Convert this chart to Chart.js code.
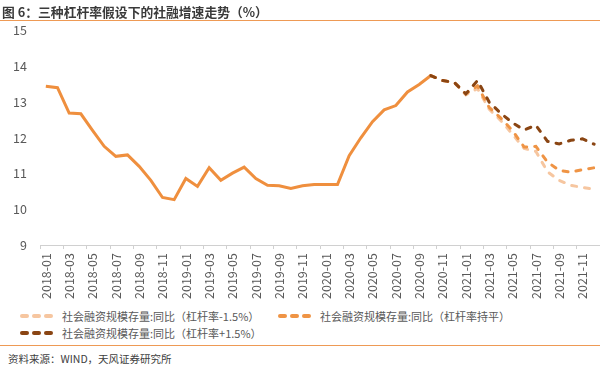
<!DOCTYPE html>
<html>
<head>
<meta charset="utf-8">
<script src="https://cdn.jsdelivr.net/npm/chart.js@4.4.0/dist/chart.umd.min.js"></script>
<style>
  body { margin: 0; background: #fff; font-family: 'Noto Sans CJK SC', 'Noto Sans', sans-serif; }
  #wrap { position: relative; width: 600px; height: 368px; overflow: hidden; }
  #title { position: absolute; left: 2px; top: 2px; font-size: 12.8px; font-weight: bold; color: #3a3a3a; z-index: 2; }
  #topline { position: absolute; left: 0; top: 20px; width: 600px; height: 0; border-top: 1.5px solid #ee9a55; z-index: 2; }
  #box { position: absolute; left: 0; top: 10px; width: 600px; height: 293px; }
  #legend { position: absolute; left: 20px; top: 307px; display: grid; grid-template-columns: 258px auto; grid-auto-rows: 17px; font-size: 11px; color: #595959; }
  .item { display: flex; align-items: center; white-space: nowrap; }
  .sample { display: flex; width: 33px; justify-content: space-between; margin-right: 9px; }
  .sample i { display: block; width: 9px; height: 4px; border-radius: 2px; }
  #botline { position: absolute; left: 0; top: 345px; width: 600px; height: 0; border-top: 1.5px solid #ee9a55; z-index: 2; }
  #source { position: absolute; left: 8px; top: 351px; font-size: 10.5px; color: #404040; z-index: 2; }
</style>
</head>
<body>
<div id="wrap">
  <div id="box"><canvas id="myChart"></canvas></div>
  <div id="title">图 6：三种杠杆率假设下的社融增速走势（%）</div>
  <div id="topline"></div>
  <div id="legend"></div>
  <div id="botline"></div>
  <div id="source">资料来源：WIND，天风证券研究所</div>
</div>
<script>
const months = [
  '2018-01','2018-02','2018-03','2018-04','2018-05','2018-06','2018-07','2018-08','2018-09','2018-10','2018-11','2018-12',
  '2019-01','2019-02','2019-03','2019-04','2019-05','2019-06','2019-07','2019-08','2019-09','2019-10','2019-11','2019-12',
  '2020-01','2020-02','2020-03','2020-04','2020-05','2020-06','2020-07','2020-08','2020-09','2020-10','2020-11','2020-12',
  '2021-01','2021-02','2021-03','2021-04','2021-05','2021-06','2021-07','2021-08','2021-09','2021-10','2021-11','2021-12'
];

// 社融存量同比 actual, 2018-01 .. 2020-10
const actual = [
  13.44, 13.40, 12.69, 12.67, 12.21, 11.76, 11.48, 11.52, 11.20, 10.81, 10.33, 10.27,
  10.86, 10.64, 11.16, 10.81, 11.01, 11.18, 10.86, 10.67, 10.66, 10.58, 10.66, 10.69,
  10.69, 10.69, 11.50, 12.00, 12.45, 12.78, 12.90, 13.28, 13.49, 13.74
];

// scenarios, 2020-10 .. 2021-12
const levPlus  = [13.74, 13.60, 13.55, 13.23, 13.60, 13.00, 12.68, 12.42, 12.22, 12.35, 11.90, 11.83, 11.93, 11.97, 11.82];
const levFlat  = [13.74, 13.60, 13.55, 13.23, 13.45, 12.85, 12.55, 12.20, 11.74, 11.76, 11.32, 11.09, 11.04, 11.11, 11.16];
const levMinus = [13.74, 13.60, 13.55, 13.20, 13.38, 12.80, 12.48, 12.10, 11.70, 11.62, 11.05, 10.81, 10.67, 10.61, 10.56];

const seriesNames = [
  '社会融资规模存量:同比（杠杆率+1.5%）',
  '社会融资规模存量:同比（杠杆率持平）',
  '社会融资规模存量:同比（杠杆率-1.5%）'
];
const seriesColors = ['#8a4513', '#ef9445', '#f6c6a0'];

const startIdx = months.indexOf('2020-10');
const pad = new Array(startIdx).fill(null);

Chart.defaults.font.family = "'Noto Sans CJK SC', 'Noto Sans', sans-serif";
Chart.defaults.color = '#595959';

function dashed(label, values, color) {
  return {
    label: label,
    data: pad.concat(values),
    borderColor: color,
    backgroundColor: color,
    borderWidth: 3,
    borderDash: [5, 8],
    borderCapStyle: 'round',
    pointRadius: 0,
    tension: 0,
    fill: false
  };
}

var ctx = document.getElementById('myChart');
var myChart = new Chart(ctx, {
  type: 'line',
  data: {
    labels: months,
    datasets: [
      dashed(seriesNames[0], levPlus, seriesColors[0]),
      dashed(seriesNames[1], levFlat, seriesColors[1]),
      dashed(seriesNames[2], levMinus, seriesColors[2]),
      {
        label: 'actual',
        data: actual,
        borderColor: '#ef8f3e',
        backgroundColor: '#ef8f3e',
        borderWidth: 3,
        pointRadius: 0,
        tension: 0,
        fill: false
      }
    ]
  },
  options: {
    responsive: true,
    maintainAspectRatio: false,
    animation: false,
    layout: { padding: { left: 13, right: 0, top: 4, bottom: 0 } },
    scales: {
      x: {
        offset: true,
        afterFit: (scale) => { scale.paddingLeft = 0; scale.paddingRight = 0; },
        grid: {
          offset: true,
          drawOnChartArea: false,
          tickLength: 4,
          color: (c) => (c.index % 2 === 0 ? '#d0d0d0' : 'rgba(0,0,0,0)')
        },
        border: { color: '#d0d0d0' },
        ticks: {
          autoSkip: false,
          minRotation: 90,
          maxRotation: 90,
          padding: 4,
          font: { size: 12.5 },
          callback: function (val, index) {
            return index % 2 === 0 ? this.getLabelForValue(val) : '';
          }
        }
      },
      y: {
        min: 9,
        max: 15,
        afterFit: (scale) => { scale.width = 27; },
        grid: { display: false, drawTicks: false, tickLength: 0 },
        border: { display: false },
        ticks: { stepSize: 1, padding: 13, font: { size: 12.5 } }
      }
    },
    plugins: {
      legend: { display: false },
      title: { display: false },
      tooltip: { enabled: false }
    }
  }
});

// legend: -1.5% , 持平 , +1.5%
var legendEl = document.getElementById('legend');
[2, 1, 0].forEach(function (i) {
  var item = document.createElement('div');
  item.className = 'item';
  var sample = document.createElement('span');
  sample.className = 'sample';
  for (var k = 0; k < 3; k++) {
    var d = document.createElement('i');
    d.style.background = seriesColors[i];
    sample.appendChild(d);
  }
  var txt = document.createElement('span');
  txt.textContent = seriesNames[i];
  item.appendChild(sample);
  item.appendChild(txt);
  legendEl.appendChild(item);
});
</script>
</body>
</html>
